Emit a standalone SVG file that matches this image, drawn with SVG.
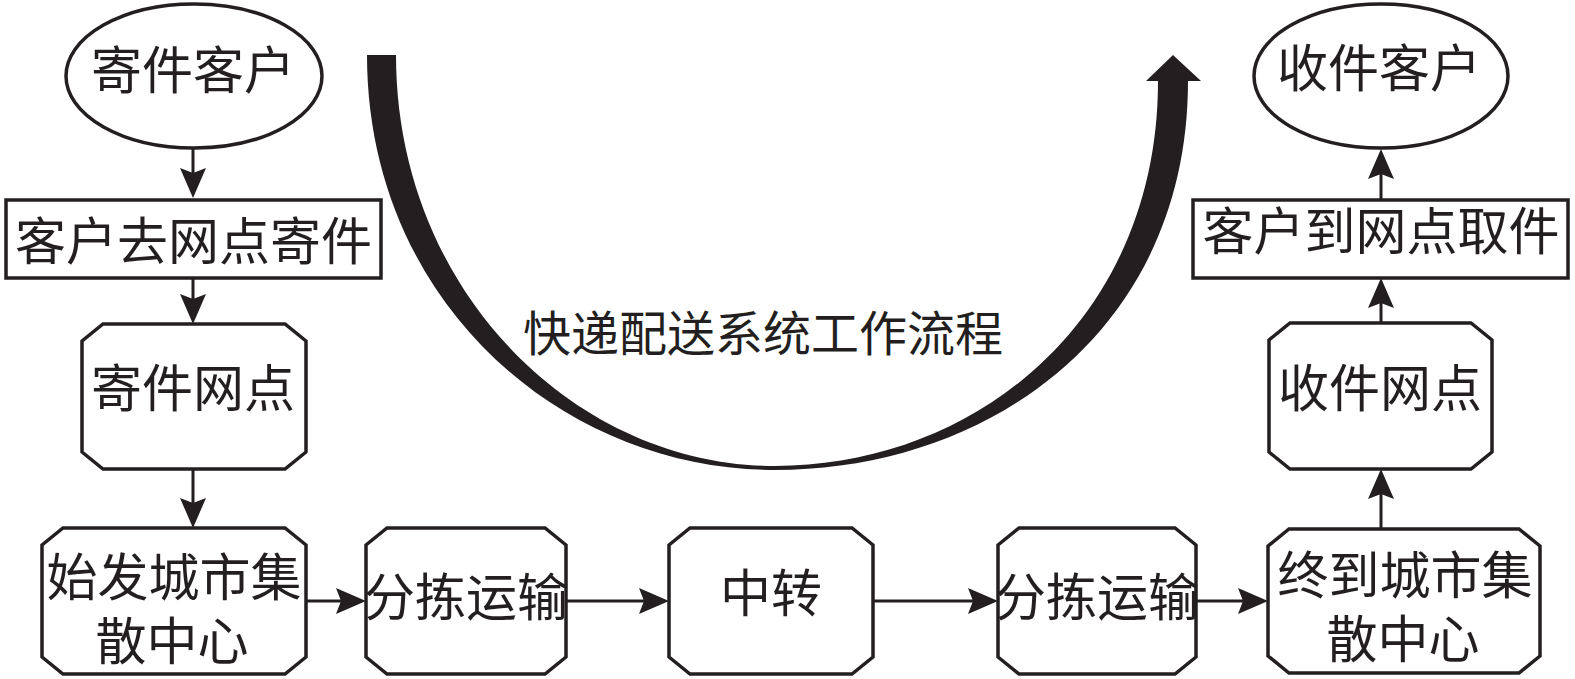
<svg xmlns="http://www.w3.org/2000/svg" width="1575" height="679" viewBox="0 0 1575 679">
<style>
.n{fill:#fff;stroke:#231f20;stroke-width:3.5}
.t{font-family:"Noto Sans CJK SC","Noto Sans CJK TC",sans-serif;font-size:51px;fill:#231f20;text-anchor:middle}
.ttl{font-size:48px}
.c{stroke:#231f20;stroke-width:3;fill:none;marker-end:url(#ah)}
</style>
<defs>
<marker id="ah" markerUnits="userSpaceOnUse" viewBox="0 0 30 26" refX="20" refY="13" markerWidth="30" markerHeight="26" orient="auto">
<path d="M0,0 L30,13 L0,26 L5,13 Z" fill="#231f20"/>
</marker>
</defs>
<rect width="1575" height="679" fill="#fff"/>
<g id="connectors">
<line class="c" x1="193" y1="149" x2="193" y2="188"/>
<line class="c" x1="193" y1="278" x2="193" y2="314"/>
<line class="c" x1="193" y1="469" x2="193" y2="518"/>
<line class="c" x1="306" y1="601" x2="356" y2="601"/>
<line class="c" x1="566" y1="601" x2="659" y2="601"/>
<line class="c" x1="873" y1="601" x2="988" y2="601"/>
<line class="c" x1="1196" y1="601" x2="1258" y2="601"/>
<line class="c" x1="1381" y1="529" x2="1381" y2="479"/>
<line class="c" x1="1381" y1="323" x2="1381" y2="288"/>
<line class="c" x1="1381" y1="200" x2="1381" y2="159"/>
</g>
<g id="flow-arc">
<path d="M367,55 C367,300 560,470 775,470 C990,470 1188,330 1188,81 L1158,81 C1158,320 975,466 775,466 C575,466 396,290 396,55 Z" fill="#231f20"/>
<polygon points="1146,81 1173,55 1201,81" fill="#231f20"/>
<text class="t ttl" x="763" y="351">快递配送系统工作流程</text>
</g>
<g id="sender">
<ellipse class="n" cx="194" cy="76" rx="128" ry="72"/>
<text class="t" x="193" y="89">寄件客户</text>
</g>
<g id="go-send">
<rect class="n" x="6" y="200" width="375" height="78"/>
<text class="t" x="193.5" y="260">客户去网点寄件</text>
</g>
<g id="send-point">
<path class="n" d="M103,324 L285,324 L306,341 L306,452 L285,469 L103,469 L82,452 L82,341 Z"/>
<text class="t" x="193" y="407">寄件网点</text>
</g>
<g id="origin-center">
<path class="n" d="M63,528 L285,528 L306,545 L306,657 L285,674 L63,674 L42,657 L42,545 Z"/>
<text class="t"><tspan x="174" y="596">始发城市集</tspan><tspan x="172" y="660">散中心</tspan></text>
</g>
<g id="sort1">
<path class="n" d="M387,528 L545,528 L566,545 L566,657 L545,674 L387,674 L366,657 L366,545 Z"/>
<text class="t" x="466" y="616">分拣运输</text>
</g>
<g id="transfer">
<path class="n" d="M690,528 L852,528 L873,545 L873,657 L852,674 L690,674 L669,657 L669,545 Z"/>
<text class="t" x="771" y="612">中转</text>
</g>
<g id="sort2">
<path class="n" d="M1019,528 L1175,528 L1196,545 L1196,657 L1175,674 L1019,674 L998,657 L998,545 Z"/>
<text class="t" x="1097" y="616">分拣运输</text>
</g>
<g id="dest-center">
<path class="n" d="M1289,529 L1519,529 L1540,546 L1540,656 L1519,673 L1289,673 L1268,656 L1268,546 Z"/>
<text class="t"><tspan x="1405" y="594">终到城市集</tspan><tspan x="1403" y="658">散中心</tspan></text>
</g>
<g id="recv-point">
<path class="n" d="M1290,323 L1471,323 L1492,340 L1492,452 L1471,469 L1290,469 L1269,452 L1269,340 Z"/>
<text class="t" x="1380" y="407">收件网点</text>
</g>
<g id="pickup">
<rect class="n" x="1193" y="200" width="375" height="78"/>
<text class="t" x="1381" y="250">客户到网点取件</text>
</g>
<g id="receiver">
<ellipse class="n" cx="1381" cy="76" rx="127" ry="72"/>
<text class="t" x="1379" y="87">收件客户</text>
</g>
</svg>
